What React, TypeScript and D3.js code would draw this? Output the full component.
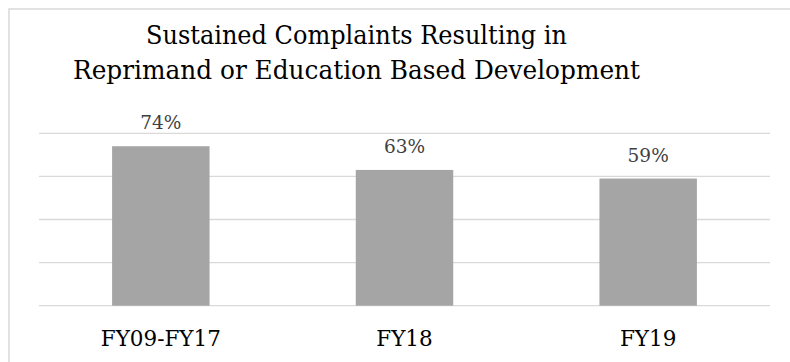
import React from "react";
import * as d3 from "d3";

const categories = ["FY09-FY17", "FY18", "FY19"];
const values = [0.74, 0.63, 0.59];
const valueLabels = ["74%", "63%", "59%"];
const gridTicks = [0, 0.2, 0.4, 0.6, 0.8];
const titleLines = ["Sustained Complaints Resulting in", "Reprimand or Education Based Development"];
const titleWidths = [421, 567];

const W = 790;
const H = 362;
const FONT = "DejaVu Serif";

export default function App() {
  const x = d3
    .scaleBand<string>()
    .domain(categories)
    .range([39, 770])
    .paddingInner(0.6)
    .paddingOuter(0.3);
  const y = d3.scaleLinear().domain([0, 0.8]).range([305.7, 133.3]);
  const bw = x.bandwidth();

  return (
    <svg
      width={W}
      height={H}
      style={{ position: "absolute", left: 0, top: 0, background: "#fff", fontFamily: FONT }}
    >
      <rect x={0} y={0} width={W} height={H} fill="#fff" />
      <rect x={9} y={9} width={W + 20} height={H + 20} fill="#fff" stroke="#d9d9d9" strokeWidth={1.5} />
      {titleLines.map((t, i) => (
        <text
          key={t}
          x={356.5}
          y={44 + i * 35}
          textAnchor="middle"
          fontSize={26}
          textLength={titleWidths[i]}
          lengthAdjust="spacingAndGlyphs"
          fill="#000"
        >
          {t}
        </text>
      ))}
      {gridTicks.map((t) => (
        <line key={t} x1={39} x2={770} y1={y(t)} y2={y(t)} stroke="#d9d9d9" strokeWidth={1.3} />
      ))}
      {categories.map((c, i) => (
        <g key={c}>
          <rect x={x(c)} y={y(values[i])} width={bw} height={y(0) - y(values[i])} fill="#a5a5a5" />
          <text
            x={(x(c) as number) + bw / 2}
            y={y(values[i]) - 17}
            textAnchor="middle"
            fontSize={18.5}
            fill="#404040"
          >
            {valueLabels[i]}
          </text>
          <text x={(x(c) as number) + bw / 2} y={346} textAnchor="middle" fontSize={21.5} fill="#000">
            {c}
          </text>
        </g>
      ))}
    </svg>
  );
}
